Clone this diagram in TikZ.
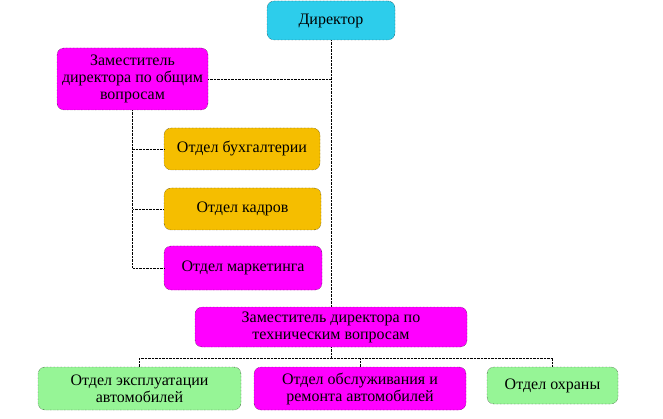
\documentclass[tikz,border=0pt]{standalone}
\usepackage{fontspec}
\setmainfont{Liberation Serif}
\usetikzlibrary{positioning}
\definecolor{headcyan}{RGB}{45,205,235}
\definecolor{deputymag}{RGB}{255,0,255}
\definecolor{deptorange}{RGB}{245,190,0}
\definecolor{deptgreen}{RGB}{150,245,150}

\begin{document}
\begin{tikzpicture}[x=1pt, y=-1pt,
    unit/.style ={rectangle, rounded corners=7pt, draw, densely dotted, align=center,
                  inner sep=2pt, font=\fontsize{16}{17}\selectfont},
    link/.style ={densely dotted}]
   \useasboundingbox (0,0) rectangle (663,419);

   \node[unit, fill=headcyan, minimum width=128pt, minimum height=39pt] (dir)  at (331,20.5)  {Директор};
   \node[unit, fill=deputymag, minimum width=151pt, minimum height=62pt] (gen)  at (132.5,79)  {Заместитель\\директора по общим\\вопросам};
   \node[unit, fill=deptorange, minimum width=156pt, minimum height=42pt] (buh)  at (242,149)  {Отдел бухгалтерии};
   \node[unit, fill=deptorange, minimum width=157pt, minimum height=42pt] (kadr) at (242.5,209) {Отдел кадров};
   \node[unit, fill=deputymag, minimum width=158pt, minimum height=44pt] (mark) at (243,268)  {Отдел маркетинга};
   \node[unit, fill=deputymag, minimum width=272pt, minimum height=40pt] (tech) at (331,327)  {Заместитель директора по\\техническим вопросам};
   \node[unit, fill=deptgreen, minimum width=203pt, minimum height=43pt] (expl) at (139.5,388.5) {Отдел эксплуатации\\автомобилей};
   \node[unit, fill=deputymag, minimum width=212pt, minimum height=43pt] (serv) at (360,388.5) {Отдел обслуживания и\\ремонта автомобилей};
   \node[unit, fill=deptgreen, minimum width=131pt, minimum height=37pt] (guard) at (552.5,385.5) {Отдел охраны};
   \coordinate (bus) at (331,358);

   \draw[link] (dir) to (tech);
   \draw[link] (gen.east) to (gen.east -| dir.south);
   \draw[link] (gen.south) |- (buh.west);
   \draw[link] (gen.south) |- (kadr.west);
   \draw[link] (gen.south) |- (mark.west);
   \draw[link] (tech.south) to (bus);
   \draw[link] (expl.north) |- (bus) -| (guard.north);
   \draw[link] (serv.north) to (serv.north |- bus);

 \end{tikzpicture}
\end{document}
